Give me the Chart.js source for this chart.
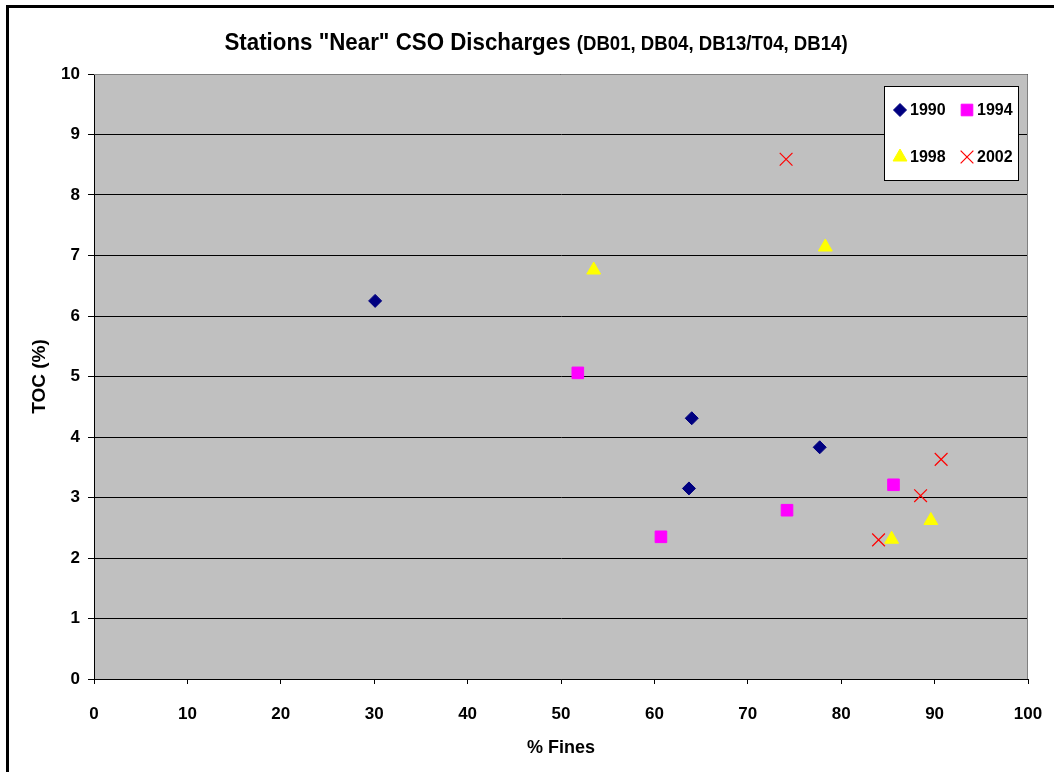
<!DOCTYPE html>
<html>
<head>
<meta charset="utf-8">
<title>Stations "Near" CSO Discharges</title>
<script src="https://cdn.jsdelivr.net/npm/chart.js@4.4.1/dist/chart.umd.min.js"></script>
<style>
  html, body { margin: 0; padding: 0; background: #ffffff; }
  #wrap { width: 1054px; height: 772px; }
</style>
</head>
<body>
<div id="wrap"><canvas id="scatter" width="1054" height="772"></canvas></div>
<script>
// data: % fines (x) and TOC % (y) per survey year
const years = ['1990', '1994', '1998', '2002'];
const fines1990 = [30.1, 64.0, 63.7, 77.7];
const toc1990   = [6.25, 4.31, 3.15, 3.83];
const fines1994 = [51.8, 60.7, 74.2, 85.6];
const toc1994   = [5.06, 2.35, 2.79, 3.21];
const fines1998 = [53.5, 78.3, 85.4, 89.6];
const toc1998   = [6.76, 7.14, 2.31, 2.62];
const fines2002 = [74.1, 84.0, 88.5, 90.7];
const toc2002   = [8.59, 2.30, 3.03, 3.63];

const xTicks = [0, 10, 20, 30, 40, 50, 60, 70, 80, 90, 100];
const yTicks = [0, 1, 2, 3, 4, 5, 6, 7, 8, 9, 10];

const FONT = "'Liberation Sans', Arial, sans-serif";

// turn two arrays into {x, y} points
function toPoints(xs, ys){
	return xs.map((x, i) => ({ x: x, y: ys[i] }));
}

// grey plot area, outer frame and the two-part title
const backdrop = {
	id: 'backdrop',
	beforeDraw(chart){
		const ctx = chart.ctx;
		const a = chart.chartArea;
		ctx.save();
		ctx.fillStyle = '#ffffff';
		ctx.fillRect(0, 0, chart.width, chart.height);
		ctx.fillStyle = '#c0c0c0';
		ctx.fillRect(a.left, a.top, a.right - a.left, a.bottom - a.top);
		// frame of the whole chart (only left and top are inside the picture)
		ctx.strokeStyle = '#000000';
		ctx.lineWidth = 3;
		ctx.strokeRect(7.5, 6.5, 1200, 900);
		ctx.restore();

		// title in two sizes, slightly narrowed like the original
		const main = 'Stations "Near" CSO Discharges ';
		const sub = '(DB01, DB04, DB13/T04, DB14)';
		const squeeze = 0.93;
		ctx.save();
		ctx.fillStyle = '#000000';
		ctx.textBaseline = 'alphabetic';
		ctx.font = 'bold 24px ' + FONT;
		const w1 = ctx.measureText(main).width * squeeze;
		ctx.font = 'bold 20px ' + FONT;
		const w2 = ctx.measureText(sub).width * squeeze;
		const x0 = 536 - (w1 + w2) / 2;
		ctx.translate(x0, 50);
		ctx.scale(squeeze, 1);
		ctx.font = 'bold 24px ' + FONT;
		ctx.fillText(main, 0, 0);
		ctx.font = 'bold 20px ' + FONT;
		ctx.fillText(sub, w1 / squeeze, 0);
		ctx.restore();
	},
	afterDatasetsDraw(chart){
		const ctx = chart.ctx;
		const a = chart.chartArea;
		ctx.save();
		ctx.strokeStyle = '#808080';
		ctx.lineWidth = 1;
		ctx.beginPath();
		ctx.moveTo(a.left, a.top + 0.5);
		ctx.lineTo(a.right - 0.5, a.top + 0.5);
		ctx.lineTo(a.right - 0.5, a.bottom);
		ctx.stroke();
		ctx.restore();
	}
};

// legend box in the top right corner of the plot, 2 x 2
const boxLegend = {
	id: 'boxLegend',
	afterDraw(chart){
		const ctx = chart.ctx;
		const bx = 884, by = 86, bw = 134, bh = 94;
		ctx.save();
		ctx.fillStyle = '#ffffff';
		ctx.fillRect(bx, by, bw, bh);
		ctx.strokeStyle = '#000000';
		ctx.lineWidth = 1;
		ctx.strokeRect(bx + 0.5, by + 0.5, bw, bh);
		const spots = [[900, 110], [967, 110], [900, 157], [967, 157]];
		chart.data.datasets.forEach((ds, i) => {
			const [px, py] = spots[i];
			const opts = {
				pointStyle: ds.pointStyle,
				radius: ds.pointRadius,
				rotation: 0,
				borderWidth: ds.borderWidth
			};
			ctx.fillStyle = ds.backgroundColor;
			ctx.strokeStyle = ds.borderColor;
			ctx.lineWidth = ds.borderWidth;
			Chart.helpers.drawPoint(ctx, opts, px, py);
			ctx.fillStyle = '#000000';
			ctx.font = 'bold 16px ' + FONT;
			ctx.textBaseline = 'middle';
			ctx.textAlign = 'left';
			ctx.fillText(ds.label, px + 10, py + 1);
		});
		ctx.restore();
	}
};

new Chart(document.getElementById('scatter').getContext('2d'), {
	type: 'scatter',
	data: {
		datasets: [
			{ label: years[0], data: toPoints(fines1990, toc1990), pointStyle: 'rectRot', pointRadius: 6.5,
			  backgroundColor: '#000080', borderColor: '#000080', borderWidth: 1 },
			{ label: years[1], data: toPoints(fines1994, toc1994), pointStyle: 'rect', pointRadius: 8.2,
			  backgroundColor: '#ff00ff', borderColor: '#ff00ff', borderWidth: 1 },
			{ label: years[2], data: toPoints(fines1998, toc1998), pointStyle: 'triangle', pointRadius: 8,
			  backgroundColor: '#ffff00', borderColor: '#ffff00', borderWidth: 1 },
			{ label: years[3], data: toPoints(fines2002, toc2002), pointStyle: 'crossRot', pointRadius: 9,
			  backgroundColor: '#ff0000', borderColor: '#ff0000', borderWidth: 1.2 }
		]
	},
	options: {
		responsive: false,
		animation: false,
		layout: { padding: { left: 24, top: 74, right: 26, bottom: 10 } },
		plugins: {
			legend: { display: false },
			title: { display: false },
			tooltip: { enabled: false }
		},
		scales: {
			x: {
				type: 'linear',
				min: xTicks[0],
				max: xTicks[xTicks.length - 1],
				afterFit(scale){ scale.height = 83; },
				afterBuildTicks(scale){ scale.ticks = xTicks.map(v => ({ value: v })); },
				// small padding keeps the right edge free; tall line height pushes labels down
				ticks: { color: '#000000', padding: 2, maxRotation: 0,
				         font: { family: FONT, size: 17, weight: 'bold', lineHeight: 3.3 } },
				grid: { drawOnChartArea: false, drawTicks: true, tickLength: 5, tickColor: '#000000', color: '#000000' },
				border: { display: true, color: '#000000', width: 1 },
				title: { display: true, text: '% Fines', color: '#000000', padding: { top: 4, bottom: 3 },
				         font: { family: FONT, size: 18, weight: 'bold' } }
			},
			y: {
				type: 'linear',
				min: yTicks[0],
				max: yTicks[yTicks.length - 1],
				afterFit(scale){ scale.width = 70; },
				afterBuildTicks(scale){ scale.ticks = yTicks.map(v => ({ value: v })); },
				ticks: { color: '#000000', padding: 8, font: { family: FONT, size: 17, weight: 'bold' } },
				grid: { color: '#000000', lineWidth: 1, drawTicks: true, tickLength: 6, tickColor: '#000000' },
				border: { display: true, color: '#000000', width: 1 },
				title: { display: true, text: 'TOC (%)', color: '#000000', padding: { top: 4, bottom: 4 },
				         font: { family: FONT, size: 19, weight: 'bold' } }
			}
		}
	},
	plugins: [backdrop, boxLegend]
});
</script>
</body>
</html>
